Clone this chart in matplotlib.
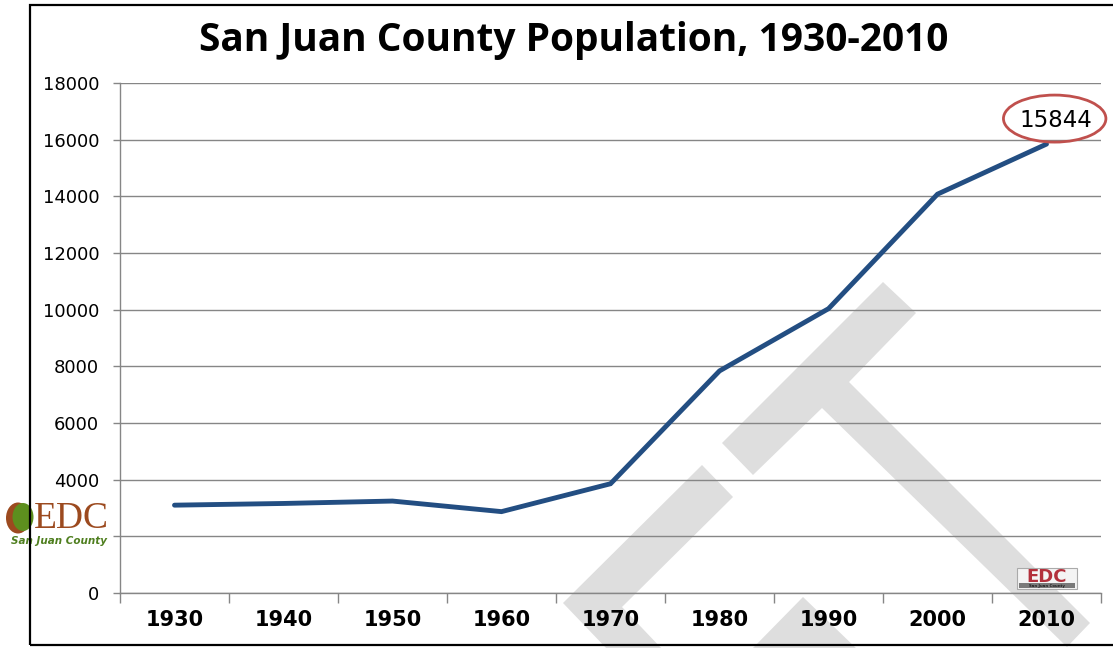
import matplotlib
matplotlib.use('Agg')
import matplotlib.pyplot as plt
from matplotlib.patches import Polygon, Ellipse, Rectangle
import numpy as np

# data
years = ['1930', '1940', '1950', '1960', '1970', '1980', '1990', '2000', '2010']
population = [3100, 3160, 3245, 2872, 3856, 7838, 10035, 14077, 15844]
y_ticks = [0, 2000, 4000, 6000, 8000, 10000, 12000, 14000, 16000, 18000]
title = 'San Juan County Population, 1930-2010'

W, H = 1113, 648


def fx(px):
    return px / W


def fy(py):
    return 1 - py / H


def fpoly(pts):
    return [(fx(x), fy(y)) for x, y in pts]


fig = plt.figure(figsize=(W / 100, H / 100), dpi=100)
fig.patch.set_facecolor('white')

# watermark shapes (grey, behind the chart)
wm = '#dedede'
wm_shapes = [
    [(722, 443), (883, 282), (916, 313), (849, 382), (1090, 623), (1067, 647), (822, 408), (753, 475)],
    [(563, 603), (702, 465), (733, 497), (622, 607), (663, 650), (608, 650)],
    [(803, 597), (858, 650), (751, 650)],
]
for s in wm_shapes:
    fig.patches.append(Polygon(fpoly(s), closed=True, transform=fig.transFigure,
                               facecolor=wm, edgecolor='none', zorder=-1))

ax = fig.add_axes([fx(120), fy(593), fx(1101) - fx(120), (593 - 83) / H])
ax.patch.set_alpha(0)

x = np.arange(len(years))
ax.plot(x, population, color='#234e82', lw=3.5, solid_capstyle='round',
        solid_joinstyle='miter', zorder=3)

ax.set_xlim(-0.5, len(years) - 0.5)
ax.set_ylim(0, 18000)
ax.set_yticks(y_ticks)
ax.set_yticklabels([str(v) for v in y_ticks], fontsize=13, family='DejaVu Sans')
# the 2000 label sits under the logo in the source picture
ax.get_yticklabels()[1].set_visible(False)
ax.set_xticks(x)
ax.set_xticklabels(years, fontsize=15, fontweight='bold', family='DejaVu Sans')
ax.tick_params(axis='x', length=0, pad=12)
ax.set_xticks(np.arange(-0.5, len(years)), minor=True)
ax.tick_params(axis='x', which='minor', length=7, color='#868686', width=1)
ax.tick_params(axis='y', length=5, color='#868686', width=1, pad=10)

ax.grid(axis='y', color='#868686', lw=1)
ax.set_axisbelow(True)
for side in ['top', 'right']:
    ax.spines[side].set_visible(False)
for side in ['left', 'bottom']:
    ax.spines[side].set_color('#868686')
    ax.spines[side].set_linewidth(1)

# last value callout
ax.annotate(str(population[-1]), xy=(x[-1], population[-1]), xytext=(6.5, 17),
            textcoords='offset points', ha='center', va='center',
            fontsize=16.5, family='DejaVu Sans', zorder=5, annotation_clip=False)
ax.add_patch(Ellipse((x[-1] + 0.075, population[-1] + 900), 0.94, 1660,
                     facecolor='none', edgecolor='#c0504d', lw=2, clip_on=False, zorder=5))

fig.text(fx(574), fy(41), title, ha='center', va='center', fontsize=28,
         fontweight='bold', family='Open Sans')

# outer frame
fig.patches.append(Rectangle((fx(30), fy(645)), 1.2, fy(5) - fy(645), transform=fig.transFigure,
                             facecolor='none', edgecolor='black', lw=1.6, zorder=10))

# left logo
fig.patches.append(Rectangle((fx(3), fy(546)), fx(110), 46 / H, transform=fig.transFigure,
                             facecolor='white', edgecolor='none', zorder=2))
fig.patches.append(Ellipse((fx(18), fy(518)), fx(24), 31 / H, transform=fig.transFigure,
                           facecolor='#9c4a1f', edgecolor='none', zorder=3))
fig.patches.append(Ellipse((fx(23), fy(517)), fx(21), 28 / H, transform=fig.transFigure,
                           facecolor='#5d8f1e', edgecolor='none', zorder=4))
fig.text(fx(71.5), fy(528), 'EDC', ha='center', va='baseline', fontsize=27,
         family='Liberation Serif', color='#9c4a1f', zorder=5)
fig.text(fx(59), fy(541), 'San Juan County', ha='center', va='center', fontsize=7.5,
         family='DejaVu Sans', style='italic', fontweight='bold', color='#4f7f1f', zorder=5)

# right logo
fig.patches.append(Rectangle((fx(1017), fy(589)), fx(60), 21 / H, transform=fig.transFigure,
                             facecolor='#f4f4f4', edgecolor='#aaaaaa', lw=0.8, zorder=4))
fig.patches.append(Rectangle((fx(1019), fy(588)), fx(56), 5 / H, transform=fig.transFigure,
                             facecolor='#7a7a7a', edgecolor='none', zorder=5))
fig.text(fx(1047), fy(582), 'EDC', ha='center', va='baseline', fontsize=13,
         fontweight='bold', family='DejaVu Sans', color='#b3303c', zorder=6)
fig.text(fx(1047), fy(585.8), 'San Juan County', ha='center', va='center', fontsize=2.8,
         fontweight='bold', color='#222222', zorder=6)

fig.savefig('out.png', dpi=100)
